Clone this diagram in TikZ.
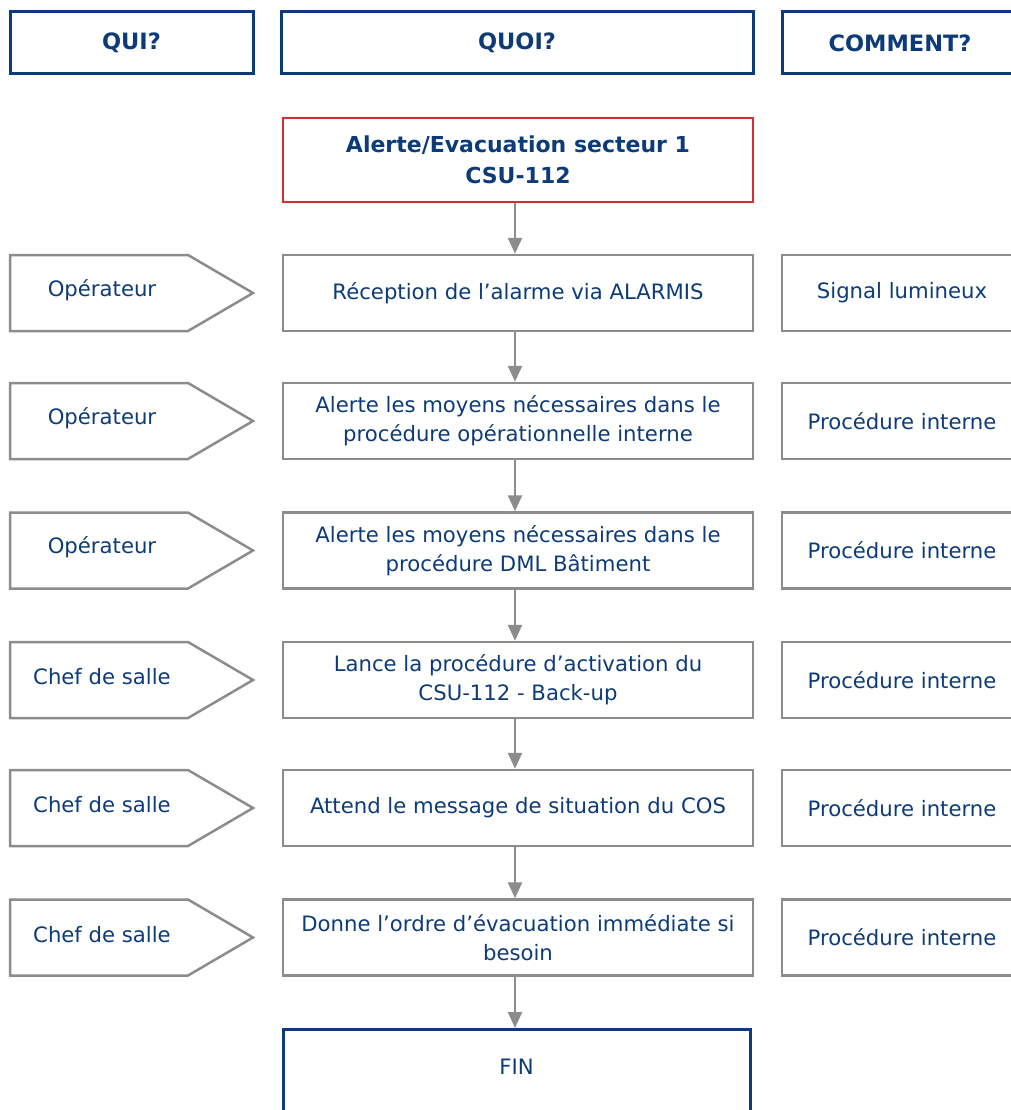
\documentclass[tikz,border=0pt]{standalone}
\usepackage{fontspec}
\setmainfont{DejaVu Sans}
\usetikzlibrary{arrows.meta}
\definecolor{navy}{HTML}{0D3B7A}
\definecolor{boxgrey}{HTML}{8C8C8C}
\definecolor{alertred}{HTML}{D62B34}
\begin{document}
\begin{tikzpicture}[x=1pt,y=-1pt,
  every node/.style={text=navy, align=center, font=\fontsize{21.2}{29}\selectfont},
  headbox/.style={draw=navy, line width=3pt, minimum height=62pt, inner sep=0pt,
    font=\fontsize{22.5}{28}\selectfont\bfseries},
  alertbox/.style={draw=alertred, line width=2pt, minimum width=470pt, minimum height=84pt,
    inner sep=0pt, font=\fontsize{22}{31}\selectfont\bfseries},
  stepbox/.style={draw=boxgrey, line width=2.5pt, minimum width=470pt, minimum height=76pt, inner sep=0pt},
  howbox/.style={draw=boxgrey, line width=2.5pt, minimum width=240pt, minimum height=76pt, inner sep=0pt},
  whoshape/.style={draw=boxgrey, line width=2.5pt, line join=miter},
  flow/.style={draw=boxgrey, line width=2.5pt, -{Triangle[width=14pt,length=16pt]}},
  finbox/.style={draw=navy, line width=3pt, minimum width=467pt, inner sep=0pt,
    text height=45pt, text depth=60pt}
]
\useasboundingbox (0,0) rectangle (1011,1110);
\clip (0,0) rectangle (1011,1110);

% headers
\node[headbox, minimum width=243pt] (qui) at (131.5,43) {QUI?};
\node[headbox, minimum width=472pt] (quoi) at (517,43) {QUOI?};
\node[headbox, minimum width=236pt] (comment) at (900,43) {COMMENT?};

% start
\node[alertbox] (m0) at (518,160) {Alerte/Evacuation secteur 1\\CSU-112};

% rows
\foreach \i/\y/\who/\what/\how in {
  1/293/Opérateur/Réception de l’alarme via ALARMIS/Signal lumineux,
  2/421/Opérateur/Alerte les moyens nécessaires dans le\\procédure opérationnelle interne/Procédure interne,
  3/550.5/Opérateur/Alerte les moyens nécessaires dans le\\procédure DML Bâtiment/Procédure interne,
  4/680/Chef de salle/Lance la procédure d’activation du\\CSU-112 - Back-up/Procédure interne,
  5/808/Chef de salle/Attend le message de situation du COS/Procédure interne,
  6/937.5/Chef de salle/Donne l’ordre d’évacuation immédiate si\\besoin/Procédure interne}{
  \draw[whoshape] (10,\y-38) -- (188,\y-38) -- (253,\y) -- (188,\y+38) -- (10,\y+38) -- cycle;
  \node (who\i) at (102,\y-3) {\who};
  \node[stepbox] (m\i) at (518,\y) {\what};
  \node[howbox] (how\i) at (902,\y) {\how};
}

% end
\node[finbox, anchor=north] (m7) at (516.5,1028) {FIN};

% connectors
\foreach \a/\b in {0/1,1/2,2/3,3/4,4/5,5/6,6/7}{
  \draw[flow] ([xshift=-3pt]m\a.south) -- ([xshift=-3pt]m\a.south |- m\b.north);
}
\end{tikzpicture}
\end{document}
